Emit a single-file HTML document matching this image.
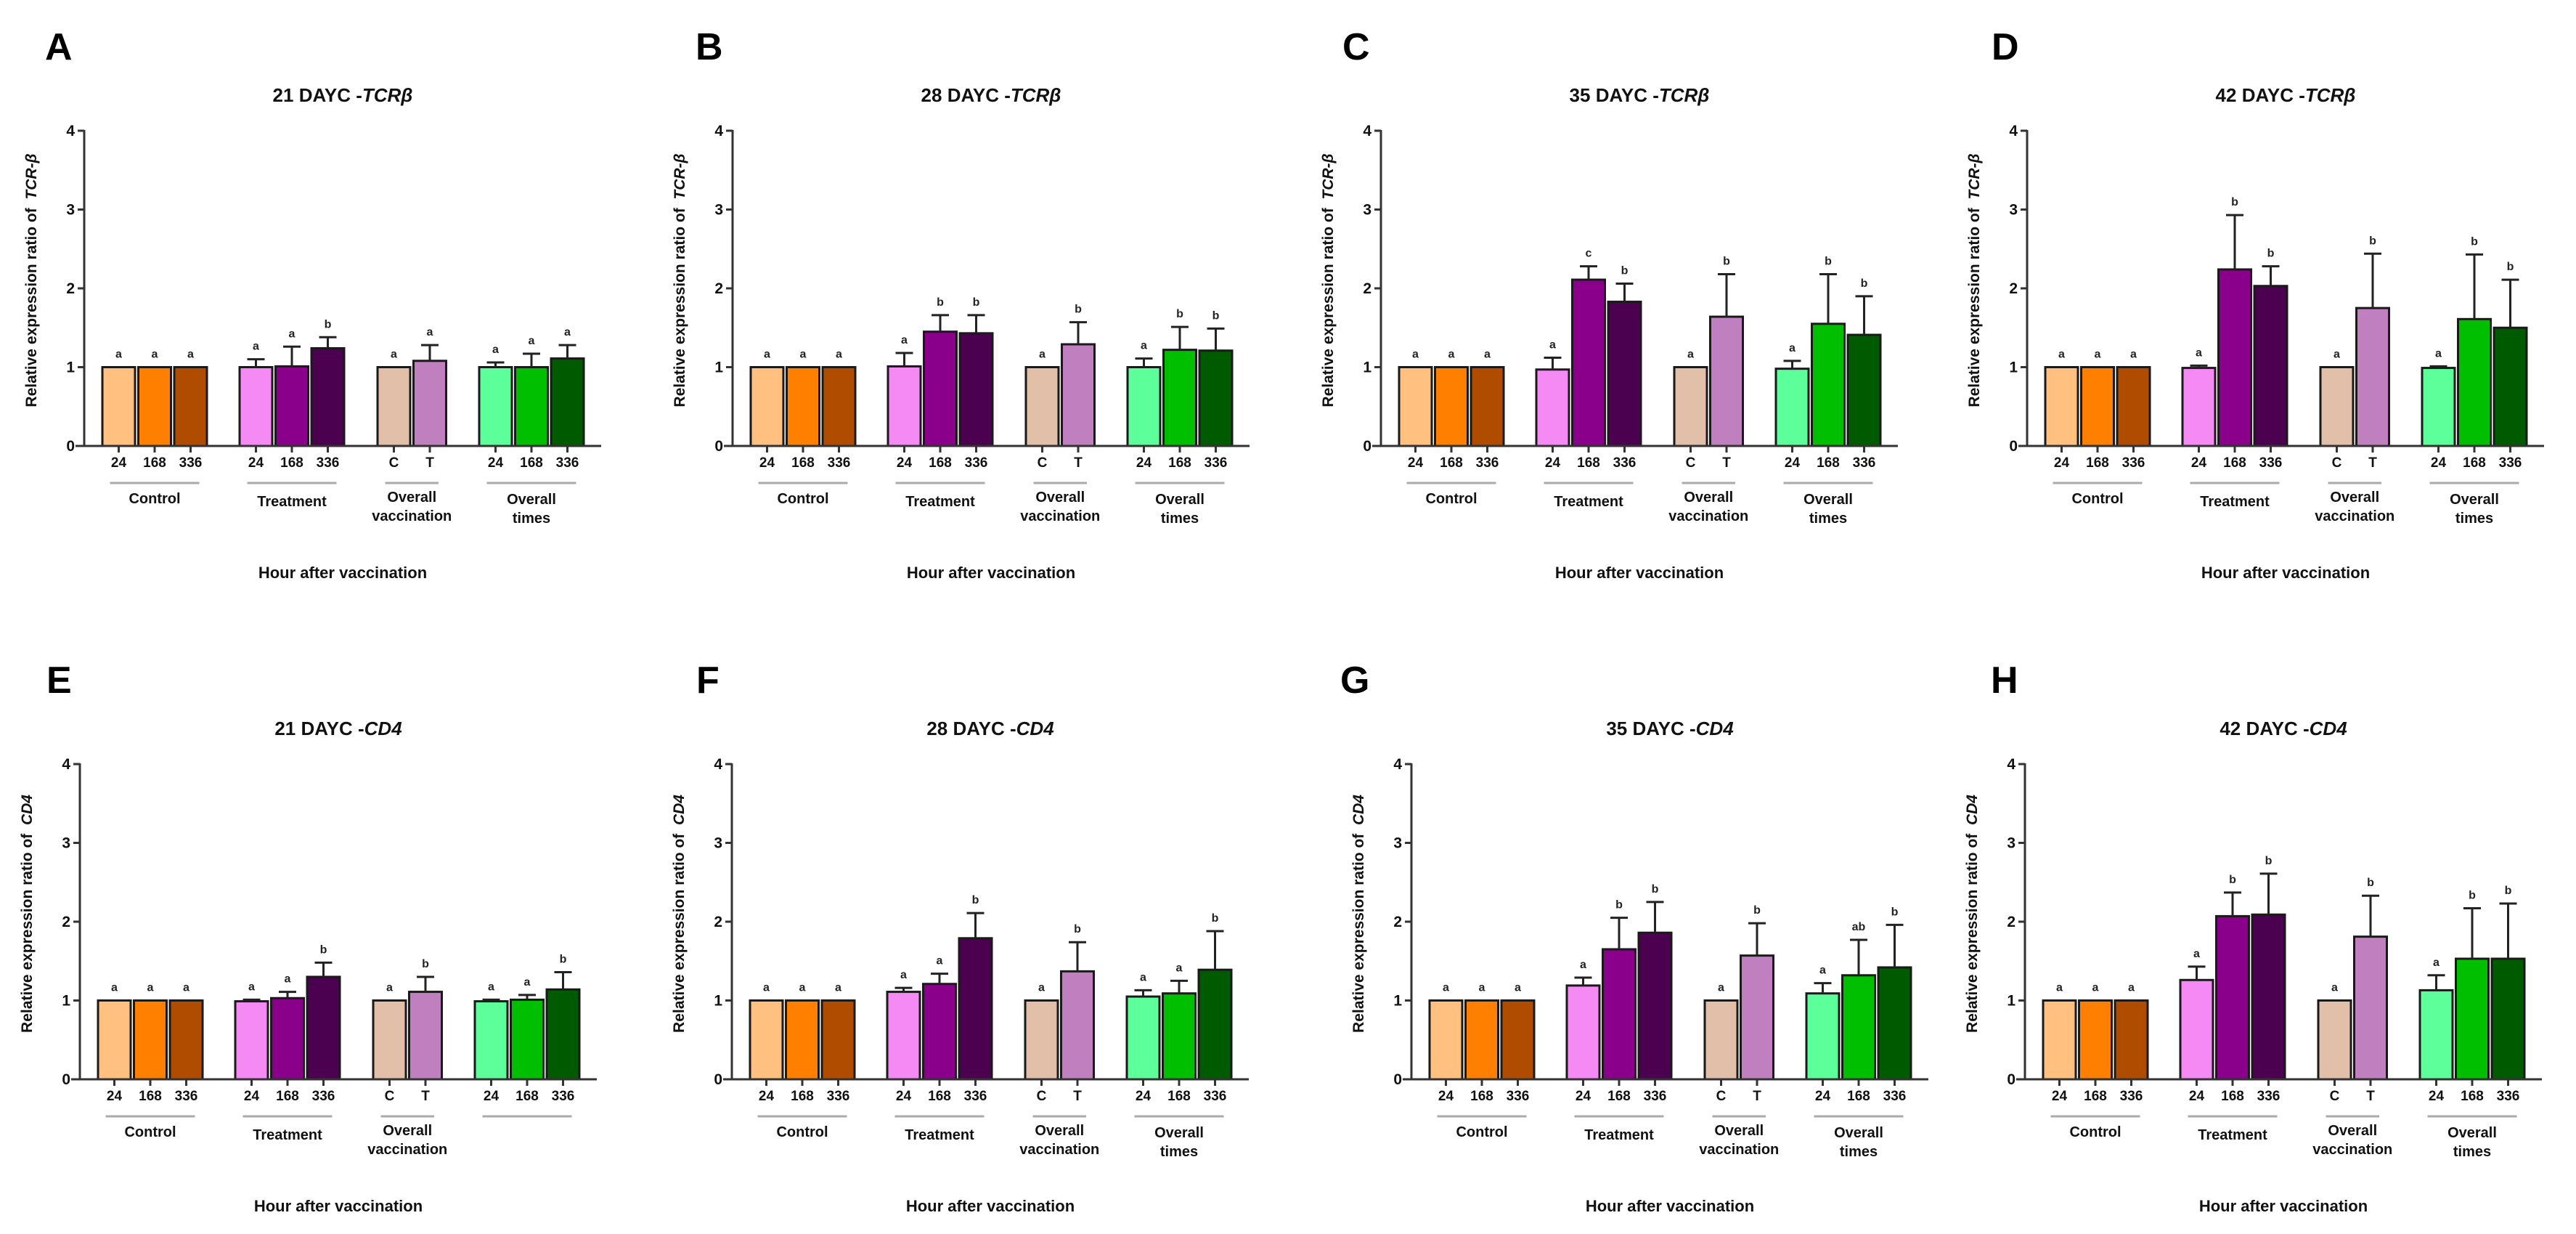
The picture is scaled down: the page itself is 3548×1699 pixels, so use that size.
<!DOCTYPE html>
<html><head><meta charset="utf-8">
<style>
html,body{margin:0;padding:0;background:#fff;}
svg{display:block;font-family:"Liberation Sans",Arial,sans-serif;}
</style></head>
<body>
<svg id="fig" width="3548" height="1699" viewBox="0 0 3548 1699" xmlns="http://www.w3.org/2000/svg"></svg>
<script>
// ---- data (means, error amounts, significance letters) ----
const categories = ["24","168","336","24","168","336","C","T","24","168","336"];
const groupNames = ["Control","Treatment","Overall vaccination","Overall times"];
const yTicks = [0,1,2,3,4];

const meanA = [1,1,1, 1.00,1.01,1.24, 1.00,1.08, 1.00,1.00,1.11];
const errA  = [0,0,0, 0.10,0.25,0.14, 0,0.20, 0.06,0.17,0.17];
const sigA  = ["a","a","a","a","a","b","a","a","a","a","a"];

const meanB = [1,1,1, 1.01,1.45,1.43, 1.00,1.29, 1.00,1.22,1.21];
const errB  = [0,0,0, 0.17,0.21,0.23, 0,0.28, 0.11,0.29,0.28];
const sigB  = ["a","a","a","a","b","b","a","b","a","b","b"];

const meanC = [1,1,1, 0.97,2.11,1.83, 1.00,1.64, 0.98,1.55,1.41];
const errC  = [0,0,0, 0.15,0.17,0.23, 0,0.54, 0.10,0.63,0.49];
const sigC  = ["a","a","a","a","c","b","a","b","a","b","b"];

const meanD = [1,1,1, 0.99,2.24,2.03, 1.00,1.75, 0.99,1.61,1.50];
const errD  = [0,0,0, 0.03,0.69,0.25, 0,0.69, 0.02,0.82,0.61];
const sigD  = ["a","a","a","a","b","b","a","b","a","b","b"];

const meanE = [1,1,1, 0.99,1.03,1.30, 1.00,1.11, 0.99,1.01,1.14];
const errE  = [0,0,0, 0.02,0.08,0.18, 0,0.19, 0.02,0.06,0.22];
const sigE  = ["a","a","a","a","a","b","a","b","a","a","b"];

const meanF = [1,1,1, 1.11,1.21,1.79, 1.00,1.37, 1.05,1.09,1.39];
const errF  = [0,0,0, 0.05,0.13,0.32, 0,0.37, 0.08,0.16,0.49];
const sigF  = ["a","a","a","a","a","b","a","b","a","a","b"];

const meanG = [1,1,1, 1.19,1.65,1.86, 1.00,1.57, 1.09,1.32,1.42];
const errG  = [0,0,0, 0.10,0.40,0.39, 0,0.41, 0.13,0.45,0.54];
const sigG  = ["a","a","a","a","b","b","a","b","a","ab","b"];

const meanH = [1,1,1, 1.26,2.07,2.09, 1.00,1.81, 1.13,1.53,1.53];
const errH  = [0,0,0, 0.17,0.30,0.52, 0,0.52, 0.19,0.64,0.70];
const sigH  = ["a","a","a","a","b","b","a","b","a","b","b"];

// ---- layout (not data) ----
const NS = "http://www.w3.org/2000/svg";
const svg = document.getElementById("fig");
const colors = ["#FFC080","#FF8000","#B04C00","#F58AF5","#8B008B","#4B0050","#E2BFA8","#C080C0","#5CFF9A","#00BF00","#005A00"];
const groupOf = [0,0,0,1,1,1,2,2,3,3,3];
const idxInGroup = [0,1,2,0,1,2,0,1,0,1,2];
const groupStart = [25,214,404,544];
const STEP = 49.5, BW = 45, AXLEN = 712, UNIT = 108.5;

const panels = [
 {id:"A",gene:"TCRβ",yl:"TCR-β",day:"21",ax:116, row:0, lx:62,  mean:meanA,err:errA,sig:sigA,times:true},
 {id:"B",gene:"TCRβ",yl:"TCR-β",day:"28",ax:1009,row:0, lx:958, mean:meanB,err:errB,sig:sigB,times:true},
 {id:"C",gene:"TCRβ",yl:"TCR-β",day:"35",ax:1902,row:0, lx:1849,mean:meanC,err:errC,sig:sigC,times:true},
 {id:"D",gene:"TCRβ",yl:"TCR-β",day:"42",ax:2792,row:0, lx:2743,mean:meanD,err:errD,sig:sigD,times:true},
 {id:"E",gene:"CD4",yl:"CD4",day:"21",ax:110, row:1, lx:64,  mean:meanE,err:errE,sig:sigE,times:false},
 {id:"F",gene:"CD4",yl:"CD4",day:"28",ax:1008,row:1, lx:959, mean:meanF,err:errF,sig:sigF,times:true},
 {id:"G",gene:"CD4",yl:"CD4",day:"35",ax:1944,row:1, lx:1846,mean:meanG,err:errG,sig:sigG,times:true},
 {id:"H",gene:"CD4",yl:"CD4",day:"42",ax:2789,row:1, lx:2742,mean:meanH,err:errH,sig:sigH,times:true}
];
const rowY0 = [614,1486];

function mk(tag, attrs, parent){
  const e = document.createElementNS(NS, tag);
  for (const k in attrs) e.setAttribute(k, attrs[k]);
  (parent||svg).appendChild(e);
  return e;
}

panels.forEach(p => {
  const y0 = rowY0[p.row];
  const yS = v => y0 - v*UNIT;
  const xBar = i => p.ax + groupStart[groupOf[i]] + idxInGroup[i]*STEP;
  const xC = i => xBar(i) + BW/2;

  const g = mk("g",{});
  
  

  const L = mk("text",{x:p.lx,y:y0-532,"font-size":52,"font-weight":"bold",fill:"#000"},g);
  L.textContent = p.id;
  
  

  const mid = p.ax + AXLEN/2;
  const t = mk("text",{x:mid,y:y0-474,"font-size":26,"font-weight":"bold","text-anchor":"middle",fill:"#111"},g);
  
  
  const t1 = mk("tspan",{},t); t1.textContent = p.day + " DAYC -";
  const t2 = mk("tspan",{"font-style":"italic"},t); t2.textContent = p.gene;

  const yt = mk("text",{x:0,y:0,"font-size":21,"font-weight":"bold","text-anchor":"middle",fill:"#111",
     transform:`translate(${p.ax-66},${y0-228}) rotate(-90)`},g);
  
  
  const y1 = mk("tspan",{},yt); y1.textContent = "Relative expression ratio of\u00a0\u00a0";
  const y2 = mk("tspan",{"font-style":"italic"},yt); y2.textContent = p.yl;

  const yl = mk("line",{x1:p.ax,y1:yS(4)-1,x2:p.ax,y2:y0,stroke:"#333","stroke-width":3},g);
  
  
  yTicks.forEach(v => {
    const tk = mk("line",{x1:p.ax-9,y1:yS(v),x2:p.ax,y2:yS(v),stroke:"#333","stroke-width":3},g);
    
    
    const tl = mk("text",{x:p.ax-13,y:yS(v)+7,"font-size":21,"font-weight":"bold","text-anchor":"end",fill:"#111"},g);
    tl.textContent = v;
    
    
  });

  p.mean.forEach((v,i) => {
    const r = mk("rect",{x:xBar(i),y:yS(v),width:BW,height:y0-yS(v),fill:colors[i],stroke:"#1a1a1a","stroke-width":3},g);
    
    
    const e = p.err[i];
    const top = yS(v+e);
    if (e > 0.005) {
      const el = mk("line",{x1:xC(i),y1:yS(v),x2:xC(i),y2:top,stroke:"#222","stroke-width":3},g);
      
      
      const cap = mk("line",{x1:xC(i)-12,y1:top,x2:xC(i)+12,y2:top,stroke:"#222","stroke-width":3},g);
      
      
    }
    const s = mk("text",{x:xC(i),y:Math.min(top,yS(v))-13,"font-size":16,"font-weight":"bold","text-anchor":"middle",fill:"#222"},g);
    s.textContent = p.sig[i];
    
    
    const xt = mk("line",{x1:xC(i),y1:y0,x2:xC(i),y2:y0+9,stroke:"#333","stroke-width":3},g);
    
    
    const xl = mk("text",{x:xC(i),y:y0+29,"font-size":19,"font-weight":"bold","text-anchor":"middle",fill:"#111"},g);
    xl.textContent = categories[i];
    
    
  });

  const xa = mk("line",{x1:p.ax-12,y1:y0,x2:p.ax+AXLEN,y2:y0,stroke:"#333","stroke-width":3},g);
  
  

  [[0,2],[3,5],[6,7],[8,10]].forEach((rg,gi) => {
    const a = xC(rg[0])-12, b = xC(rg[1])+12;
    const gl = mk("line",{x1:a,y1:y0+51,x2:b,y2:y0+51,stroke:"#aaa","stroke-width":3},g);
    
    
    const cx = (a+b)/2;
    let lines;
    if (gi===0) lines=["Control"];
    else if (gi===1) lines=["Treatment"];
    else if (gi===2) lines=["Overall","vaccination"];
    else lines = p.times ? ["Overall","times"] : [];
    lines.forEach((ln,k) => {
      const base = gi===0 ? 79 : gi===1 ? 83 : gi===2 ? 77 : 80;
      const tx = mk("text",{x:cx,y:y0+base+k*26,"font-size":20,"font-weight":"bold","text-anchor":"middle",fill:"#111"},g);
      tx.textContent = ln;
      
      
    });
  });

  const xt = mk("text",{x:mid,y:y0+182,"font-size":22,"font-weight":"bold","text-anchor":"middle",fill:"#111"},g);
  xt.textContent = "Hour after vaccination";
  
  
});
</script>
</body></html>
